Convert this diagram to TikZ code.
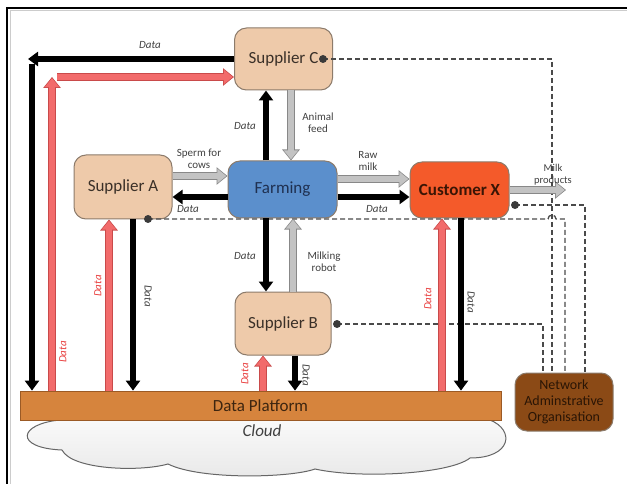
\documentclass[tikz,border=0pt]{standalone}
\usepackage{fontspec}
\setmainfont{Carlito}
\usetikzlibrary{arrows.meta,calc}
\definecolor{supfill}{HTML}{EECAAA}
\definecolor{boxline}{HTML}{8C7B6B}
\definecolor{farmfill}{HTML}{5B8FCC}
\definecolor{farmtext}{HTML}{1F3050}
\definecolor{custfill}{HTML}{F45A2A}
\definecolor{custtext}{HTML}{3A1505}
\definecolor{naofill}{HTML}{8B4A16}
\definecolor{naotext}{HTML}{2A1505}
\definecolor{platfill}{HTML}{D6843D}
\definecolor{platline}{HTML}{9B5A25}
\definecolor{plattext}{HTML}{3D2510}
\definecolor{redfill}{HTML}{F26B6B}
\definecolor{redline}{HTML}{C94A4A}
\definecolor{redtxt}{HTML}{E8403F}
\definecolor{gfill}{HTML}{C3C3C3}
\definecolor{gline}{HTML}{888888}
\definecolor{lblcol}{HTML}{404040}
\definecolor{dashcol}{HTML}{4A4A4A}
\definecolor{dotcol}{HTML}{3A3A3A}
\definecolor{boxtext}{HTML}{3A3028}
\newcommand\fatarr[4]{%
  \draw[line width=8pt, draw=#1, -{Triangle[width=17pt,length=11pt]}] #3 -- #4;
  \draw[line width=5.8pt, draw=#2, shorten >=1.2pt, -{Triangle[width=14pt,length=9pt]}] #3 -- #4;}
\begin{document}
\begin{tikzpicture}[x=1pt,y=-1pt,
  box/.style={draw=boxline, line width=1pt, rounded corners=12pt, align=center, inner sep=0pt, text=boxtext, font=\fontsize{17}{19}\selectfont},
  lbl/.style={font=\fontsize{11}{12}\selectfont, text=lblcol, align=center, inner sep=0pt},
  dlbl/.style={font=\itshape\fontsize{11}{12}\selectfont, text=lblcol, inner sep=0pt},
  rlbl/.style={dlbl, text=redtxt, rotate=90},
  vlbl/.style={dlbl, rotate=-90},
  blk/.style={line width=5.5pt, draw=black, -{Triangle[width=14pt,length=10pt]}},
  dline/.style={draw=dashcol, line width=1.3pt, dash pattern=on 5pt off 3pt},
  dotnode/.style={circle, fill=dotcol, inner sep=0pt, minimum size=8pt}]
\useasboundingbox (0,0) rectangle (627,484);
% frame
\draw[gray!40, line width=1pt] (10,484) -- (10,11) -- (627,11);
\draw[black, line width=2pt] (7,484) -- (7,8) -- (627,8);
% cloud
\draw[gray!80!black, line width=1pt, top color=white, bottom color=gray!18]
  (60,400) -- (60,420) .. controls (18,424) and (14,448) .. (62,450)
  .. controls (72,470) and (140,472) .. (168,464)
  .. controls (200,480) and (290,478) .. (315,469)
  .. controls (360,479) and (450,474) .. (470,458)
  .. controls (512,458) and (515,430) .. (490,420) -- (490,400) -- cycle;
\node[font=\itshape\fontsize{17}{19}\selectfont, text=lblcol] (cl) at (262,431) {Cloud};
% platform
\node[draw=platline, line width=0.8pt, fill=platfill, minimum width=481pt, minimum height=29pt, inner sep=0pt, text=plattext, font=\fontsize{17}{19}\selectfont] (P) at (260.5,405.5) {Data Platform};
% nodes
\node[box, fill=supfill, minimum width=98pt, minimum height=62pt] (C) at (283.5,59) {Supplier C};
\node[box, fill=supfill, minimum width=98pt, minimum height=64pt] (A) at (123,187) {Supplier A};
\node[box, fill=farmfill, text=farmtext, minimum width=109pt, minimum height=57pt] (F) at (282.5,189.5) {Farming};
\node[box, fill=custfill, text=custtext, font=\bfseries\fontsize{17}{19}\selectfont, minimum width=99pt, minimum height=56pt] (X) at (459.5,190) {Customer X};
\node[box, fill=supfill, minimum width=96pt, minimum height=63pt] (B) at (283,323.5) {Supplier B};
\node[box, fill=naofill, text=naotext, font=\fontsize{14}{16}\selectfont, minimum width=98pt, minimum height=58pt] (N) at (564,402) {Network\\Adminstrative\\Organisation};
% dots
\coordinate (cdp) at (323,59);
\coordinate (adp) at (148,219);
\coordinate (xdp) at (515,205);
\coordinate (bdp) at (337,324);
% dashed lines
\draw[dline] (cdp) -| ([xshift=-12pt]N.north);
\draw[dline] (xdp) -| ([xshift=21pt]N.north);
\draw[dline] (adp) -- (548,219) arc[start angle=180,end angle=360,radius=4] -| ([xshift=1pt]N.north);
\draw[dline] (bdp) -| ([xshift=-21pt]N.north);
\node[dotnode] (cd) at (cdp) {};
\node[dotnode] (ad) at (adp) {};
\node[dotnode] (xd) at (xdp) {};
\node[dotnode] (bd) at (bdp) {};
% Supplier C data loop
\coordinate (cTL) at (28,59);
\coordinate (cTL2) at (32,64);
\draw[blk] (C.west) -- (cTL);
\draw[blk] (cTL2) -- (cTL2 |- P.north);
\coordinate (rCtop) at (52,77);
\coordinate (rCh) at (57,77);
\fatarr{redline}{redfill}{(rCh)}{(C.west |- rCh)}
\fatarr{redline}{redfill}{(52,0 |- P.north)}{(rCtop)}
\node[dlbl] (l1) at (150,45) {Data};
\node[rlbl] (l2) at (63,352) {Data};
% C <-> F
\draw[blk] (F.north -| 266,0) -- (C.south -| 266,0);
\fatarr{gline}{gfill}{(C.south -| 291,0)}{(F.north -| 291,0)}
\node[dlbl] (l3) at (245,126) {Data};
\node[lbl] (l4) at (318,123) {Animal\\feed};
% A <-> F
\fatarr{gline}{gfill}{(A.east |- 0,176)}{(F.west |- 0,176)}
\draw[blk] (F.west |- 0,197) -- (A.east |- 0,197);
\node[lbl] (l5) at (199,159) {Sperm for\\cows};
\node[dlbl] (l6) at (188,209) {Data};
% F -> X
\fatarr{gline}{gfill}{(F.east |- 0,179)}{(X.west |- 0,179)}
\draw[blk] (F.east |- 0,197) -- (X.west |- 0,197);
\node[lbl] (l7) at (368,161) {Raw\\milk};
\node[dlbl] (l8) at (377,209) {Data};
% X -> milk products
\coordinate (mp) at (566,190);
\fatarr{gline}{gfill}{(X.east |- mp)}{(mp)}
\node[lbl, font=\fontsize{10.5}{12}\selectfont] (l9) at (553,175) {Milk\\products};
% F <-> B
\draw[blk] (F.south -| 266,0) -- (B.north -| 266,0);
\fatarr{gline}{gfill}{(B.north -| 293,0)}{(F.south -| 293,0)}
\node[dlbl] (l10) at (245,256) {Data};
\node[lbl] (l11) at (324,262) {Milking\\robot};
% A <-> platform
\fatarr{redline}{redfill}{(109,0 |- P.north)}{(A.south -| 109,0)}
\draw[blk] (A.south -| 133,0) -- (133,0 |- P.north);
\node[rlbl] (l12) at (98,286) {Data};
\node[vlbl] (l13) at (148,296) {Data};
% B <-> platform
\fatarr{redline}{redfill}{(263,0 |- P.north)}{(B.south -| 263,0)}
\draw[blk] (B.south -| 295,0) -- (295,0 |- P.north);
\node[rlbl] (l14) at (245,374) {Data};
\node[vlbl] (l15) at (306,375) {Data};
% X <-> platform
\fatarr{redline}{redfill}{(442,0 |- P.north)}{(X.south -| 442,0)}
\draw[blk] (X.south -| 461,0) -- (461,0 |- P.north);
\node[rlbl] (l16) at (428,299) {Data};
\node[vlbl] (l17) at (471,302) {Data};
\end{tikzpicture}
\end{document}
